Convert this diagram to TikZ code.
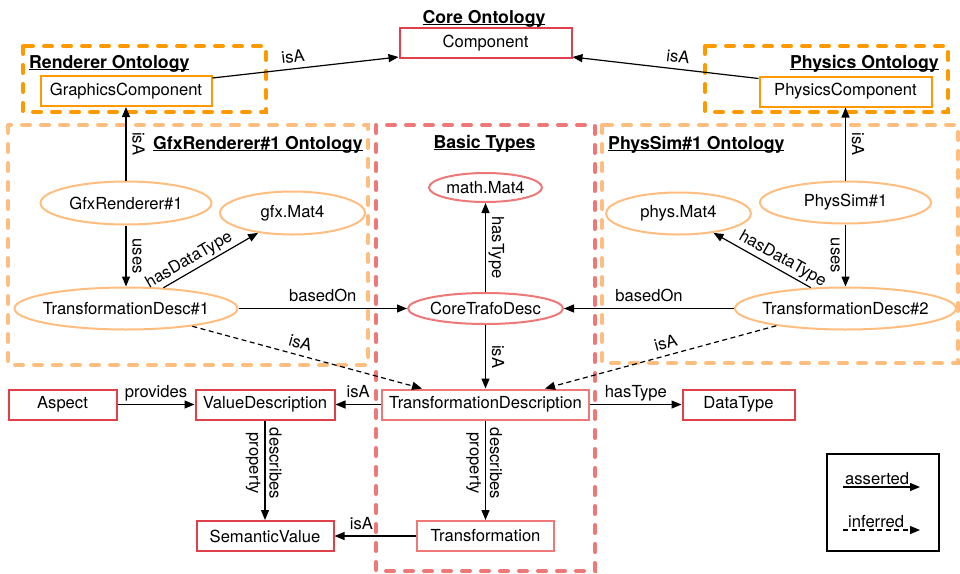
\documentclass[tikz,border=0pt]{standalone}
\usepackage{fontspec}
\setmainfont{TeX Gyre Heros}
\usetikzlibrary{shapes.geometric, arrows.meta}

\definecolor{corered}{HTML}{E0404A}
\definecolor{basered}{HTML}{EE7777}
\definecolor{ontoorange}{HTML}{FF9900}
\definecolor{instorange}{HTML}{FFBE80}

% bold group heading with a rule just under the baseline
\newcommand\grouptitle[1]{\setbox0=\hbox{#1}\rlap{\rule[-2pt]{\wd0}{1.2pt}}\box0}

\begin{document}
\begin{tikzpicture}[x=1pt, y=-1pt,
  every node/.style={font=\fontsize{16.6}{19}\selectfont},
  box/.style={draw=#1, line width=2pt, fill=white, rectangle, minimum height=30pt, inner sep=0pt},
  ell/.style={draw=#1, line width=2pt, fill=white, ellipse, inner xsep=-14pt, inner ysep=0pt},
  grp/.style={line width=4pt, line cap=round, dash pattern=on 8pt off 11pt},
  ttl/.style={font=\fontsize{17.7}{20}\selectfont\bfseries, inner sep=0pt},
  arr/.style={line width=1.2pt, -{Triangle[length=10pt,width=8pt]}},
  inf/.style={arr, dash pattern=on 5pt off 3.5pt},
  lbl/.style={inner sep=2pt, text height=12pt, text depth=4pt},
]
\useasboundingbox (0,0) rectangle (960,573);

% ontology groups
\draw[grp, instorange] (8,125) rectangle (368,365);
\draw[grp, instorange] (602,125) rectangle (958,363);
\draw[grp, ontoorange] (23,46) rectangle (266,112);
\draw[grp, ontoorange] (705,46) rectangle (948,112);
\draw[grp, basered] (376,125) rectangle (595,571);

% group headings
\node[ttl, anchor=base] (t-core) at (484,23) {\grouptitle{Core Ontology}};
\node[ttl, anchor=base west] (t-rend) at (29,68) {\grouptitle{Renderer Ontology}};
\node[ttl, anchor=base east] (t-phys) at (939,68) {\grouptitle{Physics Ontology}};
\node[ttl, anchor=base west] (t-gfx) at (153,149) {\grouptitle{GfxRenderer\#1 Ontology}};
\node[ttl, anchor=base] (t-basic) at (484.5,148) {\grouptitle{Basic Types}};
\node[ttl, anchor=base west] (t-psim) at (608,149) {\grouptitle{PhysSim\#1 Ontology}};

% concepts and instances
\node[box=corered, minimum width=172pt] (comp) at (485.5,43) {Component};
\node[box=ontoorange, minimum width=171pt] (gc) at (126,91) {GraphicsComponent};
\node[box=ontoorange, minimum width=172pt] (pc) at (845.5,91.5) {PhysicsComponent};
\node[ell=instorange, minimum width=171pt, minimum height=43pt] (gfx) at (126,203) {GfxRenderer\#1};
\node[ell=instorange, minimum width=145pt, minimum height=43pt] (gmat) at (292.5,213) {gfx.Mat4};
\node[ell=instorange, minimum width=223pt, minimum height=42pt] (td1) at (126,308.5) {TransformationDesc\#1};
\node[ell=basered, minimum width=113pt, minimum height=29pt] (mmat) at (485.5,187.5) {math.Mat4};
\node[ell=basered, minimum width=155pt, minimum height=31pt] (ctd) at (485.5,308.5) {CoreTrafoDesc};
\node[ell=instorange, minimum width=171pt, minimum height=42pt] (psim) at (845.5,202.5) {PhysSim\#1};
\node[ell=instorange, minimum width=145pt, minimum height=42pt] (pmat) at (678.5,213.5) {phys.Mat4};
\node[ell=instorange, minimum width=221pt, minimum height=42pt] (td2) at (845.5,308.5) {TransformationDesc\#2};
\node[box=corered, minimum width=108pt] (aspect) at (62.5,404.5) {Aspect};
\node[box=corered, minimum width=139pt] (vd) at (265,404.5) {ValueDescription};
\node[box=corered, minimum width=137pt] (sv) at (265,536) {SemanticValue};
\node[box=basered, minimum width=207pt] (tdesc) at (485.5,404.5) {TransformationDescription};
\node[box=basered, minimum width=137pt] (trans) at (485.5,536) {Transformation};
\node[box=corered, minimum width=112pt] (dt) at (738.5,404.5) {DataType};

% relations
\draw[arr] ([yshift=-3pt]gc.north east) -- node[lbl, sloped, above, pos=0.44] (l-gc) {isA} ([yshift=2pt]comp.south west);
\draw[arr] ([yshift=-3pt]pc.north west) -- node[lbl, sloped, above, pos=0.44] (l-pc) {isA} ([yshift=2pt]comp.south east);
\draw[arr] (gfx) -- node[lbl, midway, rotate=-90, anchor=south] (l-gfx) {isA} (gc);
\draw[arr] (gfx) -- node[lbl, midway, rotate=-90, anchor=south] (l-gu) {uses} (td1);
\draw[arr] (td1.29.3) -- node[lbl, sloped, above, pos=0.33] (l-gd) {hasDataType} (gmat.210.1);
\draw[arr] (td1) -- node[lbl, above] (l-gb) {basedOn} (ctd);
\draw[inf] (td1.-15.5) -- node[lbl, sloped, above, pos=0.457] (l-gi) {isA} ([xshift=41pt]tdesc.north west);
\draw[arr] (ctd) -- node[lbl, midway, rotate=-90, anchor=south] (l-ht) {hasType} (mmat);
\draw[arr] (ctd) -- node[lbl, midway, rotate=-90, anchor=south] (l-ci) {isA} (tdesc);
\draw[arr] (psim) -- node[lbl, midway, rotate=-90, anchor=south] (l-pi) {isA} (pc);
\draw[arr] (psim) -- node[lbl, midway, rotate=-90, anchor=north] (l-pu) {uses} (td2);
\draw[arr] (td2.149.3) -- node[lbl, sloped, above, pos=0.345] (l-pd) {hasDataType} (pmat.-29.5);
\draw[arr] (td2) -- node[lbl, above] (l-pb) {basedOn} (ctd);
\draw[inf] (td2.194.3) -- node[lbl, sloped, above, pos=0.464] (l-ti) {isA} ([xshift=-45pt]tdesc.north east);
\draw[arr] (aspect) -- node[lbl, above] (l-pr) {provides} (vd);
\draw[arr] (tdesc) -- node[lbl, above] (l-vi) {isA} (vd);
\draw[arr] (tdesc) -- node[lbl, above] (l-dt) {hasType} (dt);
\draw[arr] (trans) -- node[lbl, above, pos=0.67] (l-si) {isA} (sv);
\draw[arr] (vd) -- node[pos=0.43, rotate=-90, anchor=south, inner sep=0pt, text depth=4pt] (l-vd1) {describes}
                   node[pos=0.43, rotate=-90, anchor=north, inner sep=3pt, text height=12pt] (l-vd2) {property} (sv);
\draw[arr] (tdesc) -- node[pos=0.43, rotate=-90, anchor=south, inner sep=0pt, text depth=4pt] (l-td1) {describes}
                      node[pos=0.43, rotate=-90, anchor=north, inner sep=3pt, text height=12pt] (l-td2) {property} (trans);

% legend
\node[draw, line width=1.2pt, minimum width=112pt, minimum height=97pt, inner sep=0pt] (legend) at (883,502.5) {};
\node[anchor=base west, inner sep=0pt] (lg-a) at (845,484) {asserted};
\node[anchor=base west, inner sep=0pt] (lg-i) at (848,527.5) {inferred};
\coordinate (a0) at (843,487);
\coordinate (a1) at (920,487);
\coordinate (i0) at (843,530);
\coordinate (i1) at (920,530);
\draw[arr] (a0) -- (a1);
\draw[inf] (i0) -- (i1);
\end{tikzpicture}
\end{document}
